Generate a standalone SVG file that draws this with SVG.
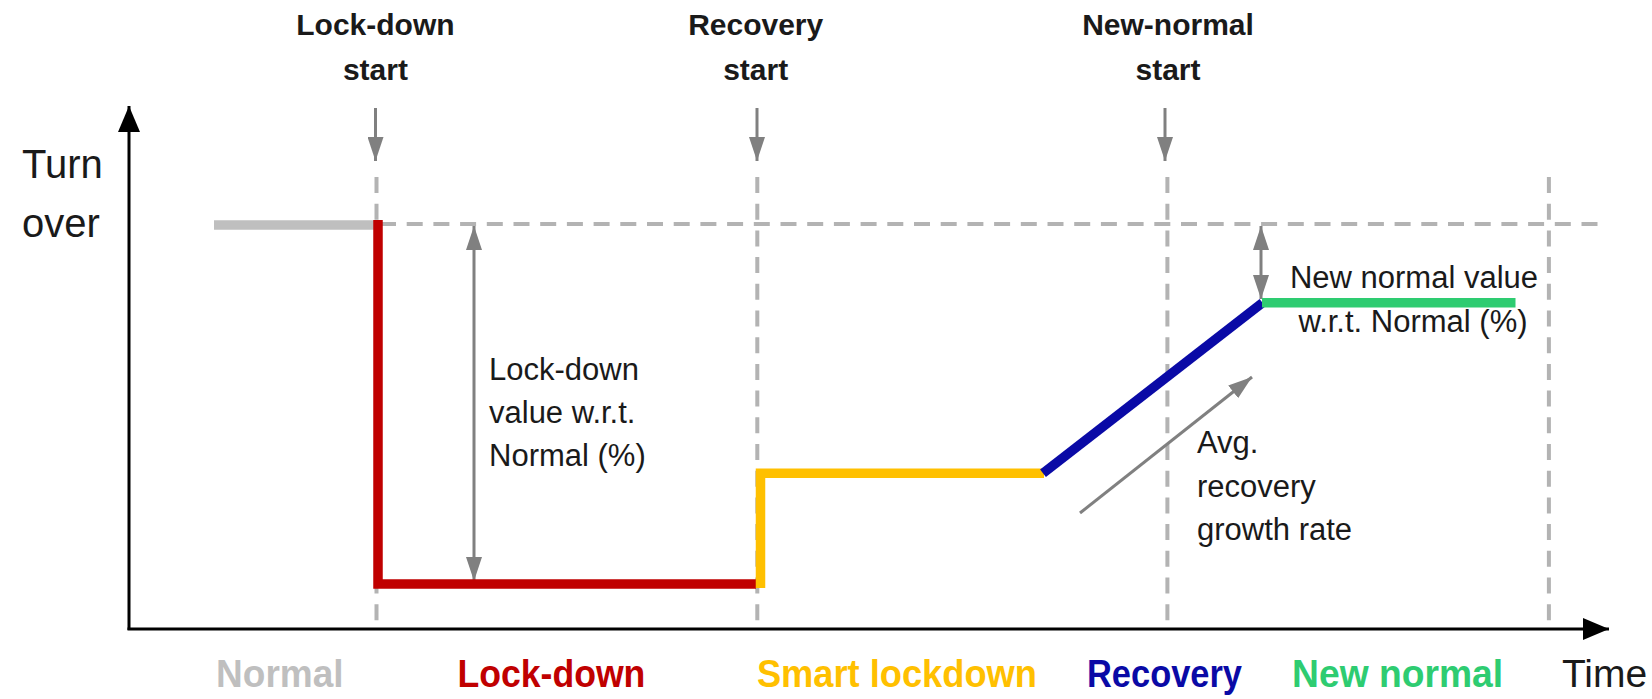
<svg xmlns="http://www.w3.org/2000/svg" width="1652" height="699" viewBox="0 0 1652 699">
<defs>
<style>
.lbl{font-family:"Liberation Sans",Arial,sans-serif;fill:#1a1a1a;}
.top{font-size:30px;font-weight:bold;text-anchor:middle;}
.reg{font-size:31px;}
.phase{font-size:38px;font-weight:bold;text-anchor:middle;}
.dash{stroke:#b3b3b3;stroke-width:4;stroke-dasharray:16 10.7;fill:none;}
.garrow{stroke:#808080;stroke-width:3;fill:none;}
.axis{stroke:#000;stroke-width:3;fill:none;}
.seg{fill:none;stroke-width:9.5;stroke-linejoin:miter;stroke-linecap:butt;}
</style>
<marker id="gEnd" markerUnits="userSpaceOnUse" viewBox="0 0 24 16" refX="24" refY="8" markerWidth="24" markerHeight="16" orient="auto">
<path d="M0,0 L24,8 L0,16 Z" fill="#808080"/>
</marker>
<marker id="gStart" markerUnits="userSpaceOnUse" viewBox="0 0 24 16" refX="0" refY="8" markerWidth="24" markerHeight="16" orient="auto">
<path d="M24,0 L0,8 L24,16 Z" fill="#808080"/>
</marker>
<marker id="kEnd" markerUnits="userSpaceOnUse" viewBox="0 0 26 22" refX="26" refY="11" markerWidth="26" markerHeight="22" orient="auto">
<path d="M0,0 L26,11 L0,22 Z" fill="#000"/>
</marker>
</defs>
<rect width="1652" height="699" fill="#fff"/>

<g id="connectors">
<!-- grid dashed lines -->
<line class="dash" x1="380" y1="224" x2="1604" y2="224"/>
<line class="dash" x1="376.5" y1="177" x2="376.5" y2="624"/>
<line class="dash" x1="757.3" y1="177" x2="757.3" y2="624"/>
<line class="dash" x1="1167.4" y1="177" x2="1167.4" y2="624"/>
<line class="dash" x1="1548.9" y1="177" x2="1548.9" y2="624"/>
<!-- axes -->
<line class="axis" x1="129" y1="630" x2="129" y2="106" marker-end="url(#kEnd)"/>
<line class="axis" x1="127.5" y1="629" x2="1609" y2="629" marker-end="url(#kEnd)"/>
<!-- event arrows -->
<line class="garrow" x1="375.5" y1="108" x2="375.5" y2="161" marker-end="url(#gEnd)"/>
<line class="garrow" x1="757" y1="108" x2="757" y2="161" marker-end="url(#gEnd)"/>
<line class="garrow" x1="1165" y1="108" x2="1165" y2="161" marker-end="url(#gEnd)"/>
<!-- measurement arrows -->
<line class="garrow" x1="474" y1="226" x2="474" y2="581" marker-start="url(#gStart)" marker-end="url(#gEnd)"/>
<line class="garrow" x1="1261" y1="226" x2="1261" y2="299" marker-start="url(#gStart)" marker-end="url(#gEnd)"/>
<line class="garrow" x1="1080" y1="513" x2="1252" y2="377" marker-end="url(#gEnd)"/>
</g>

<g id="normal-segment">
<line class="seg" x1="214" y1="225" x2="378" y2="225" stroke="#bfbfbf"/>
</g>
<g id="lockdown-segment">
<polyline class="seg" points="378,220 378,584 756,584" stroke="#c00000"/>
</g>
<g id="smart-lockdown-segment">
<polyline class="seg" points="760.5,588 760.5,473.3 1044,473.3" stroke="#ffc000"/>
</g>
<g id="recovery-segment">
<line class="seg" x1="1043" y1="473.3" x2="1262.5" y2="302.7" stroke="#0a0aa6"/>
</g>
<g id="new-normal-segment">
<line class="seg" x1="1262" y1="302.7" x2="1515.5" y2="302.7" stroke="#2ecc71"/>
</g>

<g id="axis-labels">
<text class="lbl" x="22" y="178" font-size="40">Turn</text>
<text class="lbl" x="22" y="237" font-size="40">over</text>
<text class="lbl" x="1604.5" y="687" font-size="39" text-anchor="middle" fill="#000">Time</text>
</g>

<g id="event-lockdown-start">
<text class="lbl top" x="375.4" y="35">Lock-down</text>
<text class="lbl top" x="375.4" y="80">start</text>
</g>
<g id="event-recovery-start">
<text class="lbl top" x="755.7" y="35">Recovery</text>
<text class="lbl top" x="755.7" y="80">start</text>
</g>
<g id="event-new-normal-start">
<text class="lbl top" x="1168" y="35">New-normal</text>
<text class="lbl top" x="1168" y="80">start</text>
</g>

<g id="lockdown-value-label">
<text class="lbl reg" x="489" y="380">Lock-down</text>
<text class="lbl reg" x="489" y="423">value w.r.t.</text>
<text class="lbl reg" x="489" y="466">Normal (%)</text>
</g>
<g id="new-normal-value-label">
<text class="lbl reg" x="1414" y="288" text-anchor="middle">New normal value</text>
<text class="lbl reg" x="1413" y="332" text-anchor="middle">w.r.t. Normal (%)</text>
</g>
<g id="growth-rate-label">
<text class="lbl reg" x="1197" y="453">Avg.</text>
<text class="lbl reg" x="1197" y="497">recovery</text>
<text class="lbl reg" x="1197" y="540">growth rate</text>
</g>

<g id="phase-labels">
<text class="lbl phase" x="279.8" y="687" fill="#bfbfbf" style="fill:#bfbfbf" textLength="127.5" lengthAdjust="spacingAndGlyphs">Normal</text>
<text class="lbl phase" x="551.4" y="687" style="fill:#c00000" textLength="188" lengthAdjust="spacingAndGlyphs">Lock-down</text>
<text class="lbl phase" x="896.9" y="687" style="fill:#ffc000" textLength="280" lengthAdjust="spacingAndGlyphs">Smart lockdown</text>
<text class="lbl phase" x="1164.5" y="687" style="fill:#0a0aa6" textLength="155" lengthAdjust="spacingAndGlyphs">Recovery</text>
<text class="lbl phase" x="1397.6" y="687" style="fill:#2ecc71" textLength="211" lengthAdjust="spacingAndGlyphs">New normal</text>
</g>
</svg>
